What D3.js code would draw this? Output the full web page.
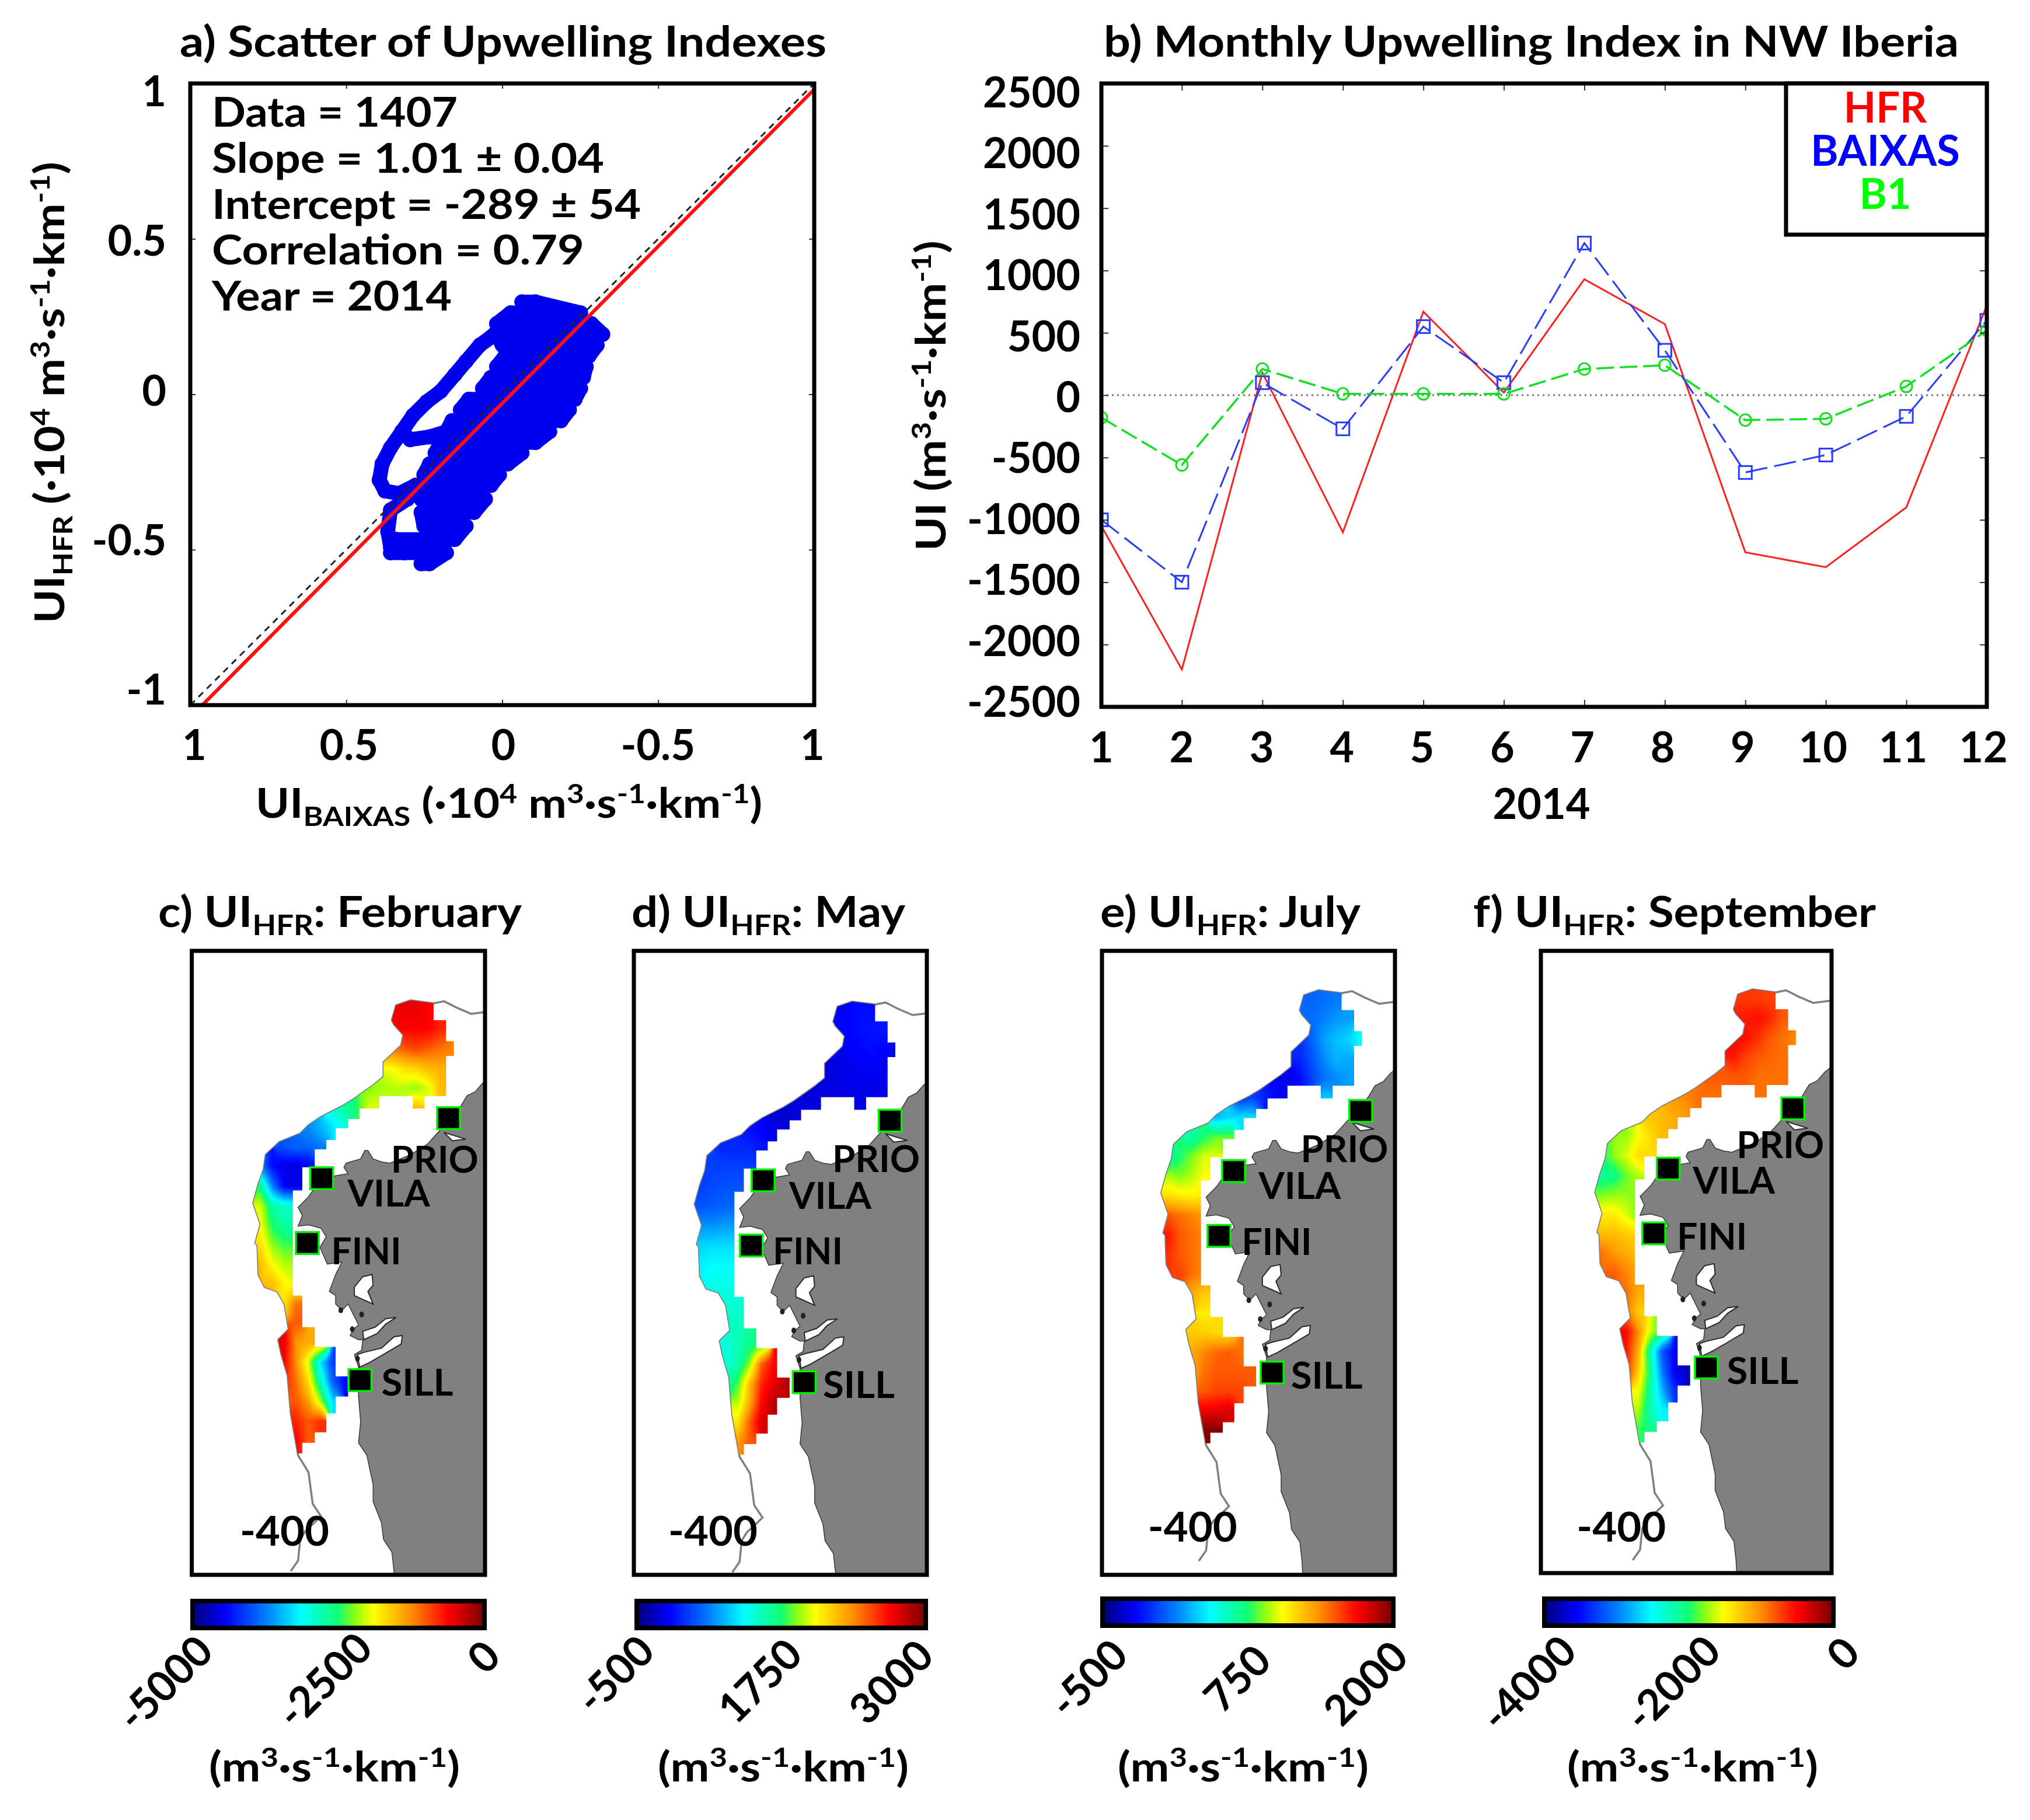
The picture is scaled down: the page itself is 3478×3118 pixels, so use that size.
<!DOCTYPE html>
<html><head><meta charset="utf-8">
<script src="https://cdnjs.cloudflare.com/ajax/libs/d3/7.8.5/d3.min.js"></script>
<style>html,body{margin:0;padding:0;background:#fff}svg{display:block}text{font-family:Lato,"Open Sans",sans-serif;font-weight:700;fill:#000}</style>
</head><body><svg id="c" width="3478" height="3118"></svg>
<script>
// ---------- panel a ----------
const statLines=["Data = 1407","Slope = 1.01 ± 0.04","Intercept = -289 ± 54","Correlation = 0.79","Year = 2014"];
const scatterAxisTicks=[1,0.5,0,-0.5,-1];
const scatterTickLabelsX=["1","0.5","0","-0.5","1"];
const scatterTickLabelsY=["1","0.5","0","-0.5","-1"];
const fitSlope=-1.01, fitIntercept=-0.0289;
// body of the point cloud, read row by row: [UI_BAIXAS, UI_HFR]
const scatterBody=[[.26,-.545],[.233,-.545],[.179,-.51],[.358,-.51],[.34,-.467],[.152,-.467],[.116,-.424],[.251,-.424],[.26,-.38],[.09,-.38],[.054,-.337],[.26,-.337],[.278,-.293],[.036,-.293],[.009,-.259],[.251,-.259],[.233,-.224],[-.018,-.224],[-.063,-.189],[.215,-.189],[.197,-.155],[-.107,-.155],[-.152,-.12],[.179,-.12],[.161,-.085],[-.188,-.085],[-.215,-.05],[.134,-.05],[.107,-.016],[-.233,-.016],[-.251,.019],[.063,.019],[.036,.054],[-.26,.054],[-.269,.089],[.018,.089],[-.009,.123],[-.278,.123],[-.304,.158],[0,.158],[.018,.193],[-.322,.193],[-.286,.227],[.018,.227],[-.027,.262],[-.251,.262],[-.107,.297],[-.063,.297]];
const scatterLoop=[[.394,-.276],[.385,-.224],[.358,-.172],[.322,-.12],[.286,-.068],[.242,-.024],[.197,.01],[.152,.063],[.116,.106],[.072,.158],[.036,.184],[-.009,.227]];
const scatterLoopLower=[[.322,-.12],[.295,-.146],[.233,-.137],[.179,-.12],[.125,-.068],[.072,-.016],[.036,.054]];
const scatterLobe=[[.394,-.276],[.376,-.311],[.331,-.319],[.278,-.293]];
const scatterLobe2=[[.304,-.337],[.358,-.372],[.367,-.441],[.358,-.493],[.313,-.51]];
// ---------- panel b ----------
const months=[1,2,3,4,5,6,7,8,9,10,11,12];
const uiHFR=[-1050,-2200,180,-1100,670,20,930,570,-1260,-1380,-900,720];
const uiBAIXAS=[-1000,-1500,100,-270,550,100,1220,360,-620,-480,-170,600];
const uiB1=[-180,-560,210,10,10,10,210,240,-200,-190,70,520];
const monthlyTicks=[2500,2000,1500,1000,500,0,-500,-1000,-1500,-2000,-2500];
const legendNames=["HFR","BAIXAS","B1"];
// ---------- maps (map units) ----------
const isobath400=[[555,1515],[590,1490],[600,1440],[625,1420],[700,1385],[660,1355],[640,1280],[590,1240],[585,1225],[555,1140],[540,1050],[510,1000],[495,965],[545,940],[525,880],[490,850],[430,840],[400,810],[395,740],[385,735],[410,690],[375,640],[400,595],[425,560],[435,525],[500,495],[600,475],[640,455],[700,435],[800,410],[850,395],[950,360],[1000,340],[1000,305],[1085,265],[1095,240],[1050,215],[1040,205],[1060,170],[1130,158],[1240,165],[1290,160],[1350,175],[1420,190],[1500,185]];
const landOutline=[[1500,345],[1475,355],[1440,375],[1400,385],[1370,410],[1340,430],[1265,470],[1210,500],[1130,525],[1030,545],[990,542],[950,535],[925,515],[910,515],[890,535],[820,545],[810,555],[830,570],[770,575],[690,590],[640,625],[590,650],[610,670],[590,695],[640,692],[700,700],[725,720],[695,745],[730,785],[800,780],[770,810],[740,850],[770,860],[770,880],[800,895],[830,880],[850,900],[880,930],[855,940],[840,955],[880,965],[900,965],[895,990],[860,1000],[880,1030],[880,1100],[890,1160],[880,1210],[920,1240],[950,1310],[950,1350],[990,1400],[1000,1440],[1040,1470],[1050,1515],[1060,1600],[1700,1600],[1700,345]];
const inlets=[[[860,840],[900,815],[945,810],[950,835],[925,850],[950,880],[905,870],[860,860]],[[900,945],[960,935],[1010,915],[1060,912],[1010,928],[970,950],[905,965]],[[905,995],[990,985],[1050,958],[1090,955],[1085,975],[1000,1000],[930,1020],[885,1030],[875,1000]],[[1290,472],[1395,488],[1330,492]]];
const islets=[[795,895],[850,940],[875,1010],[895,905]];
const coverage=[[1060,150],[1240,150],[1240,205],[1300,205],[1300,255],[1337,255],[1337,290],[1300,290],[1300,385],[1197,385],[1197,415],[1140,415],[1140,385],[980,385],[980,415],[885,415],[885,440],[830,440],[830,462],[770,462],[770,490],[725,490],[725,512],[670,512],[670,555],[610,555],[610,610],[565,610],[565,860],[610,860],[610,935],[670,935],[670,982],[770,982],[770,1052],[830,1052],[830,1100],[770,1100],[770,1140],[725,1140],[725,1185],[670,1185],[670,1210],[610,1210],[610,1235],[300,1235],[300,150]];
const stationNames=["PRIO","VILA","FINI","SILL"];
// fields: one row per line of the sampling grid, [first column, values...]; values are % along the colour bar
const fieldFebruary=[[12,90,90,88],[12,88,88,88,85],[11,78,80,82,80,78,76],[11,62,66,67,70,71],[9,55,57,58,58,56,60,70],[6,42,46,50,60,60,null,null,70],[4,26,30,34,40],[2,20,22,22,24],[0,25,12,9,8,10],[0,48,25,10,9],[0,60,45,42,40],[0,62,50,46,44],[0,66,56,52,52],[0,70,62,58,57],[1,70,63,60],[2,65,78],[3,80],[2,90,74,72,72],[2,88,75,60,35,18],[2,85,78,66,44,22,12],[3,80,74,58,34],[3,85,80,84],[3,88,80]];
const fieldMay=[[12,11,12,12],[12,11,12,13,13],[11,9,10,11,12,11,11],[11,8,9,10,10,10],[9,7,8,8,9,9,9,9],[6,6,7,8,8,8,null,null,8],[4,12,11,9,8],[2,15,15,15,13],[0,17,18,18,18,18],[0,18,19,20,20],[0,20,21,22,23],[0,27,27,28,28],[0,33,34,34,34],[0,36,37,37,37],[1,39,39,39],[2,41,41],[3,43],[2,40,44,47,50],[2,40,44,56,80,88],[2,44,52,70,85,90,95],[3,58,72,88,95],[3,65,80,92],[3,74,80]];
const fieldJuly=[[12,22,23,24],[12,23,25,27,28],[11,16,22,28,31,33,37],[11,15,20,26,30,29],[9,10,9,12,18,23,26,28],[6,16,18,14,11,10,null,null,32],[4,30,33,34,34],[2,45,50,54,54],[0,45,50,55,60,60],[0,57,55,58,62],[0,66,64,63,64],[0,80,78,76,74],[0,86,80,78,76],[0,84,80,78,76],[1,82,78,76],[2,72,68],[3,64],[2,68,68,66,66],[2,72,76,79,80,78],[2,73,78,80,80,80,80],[3,80,82,82,82],[3,90,90,92],[3,100,100]];
const fieldSeptember=[[12,83,83,82],[12,86,87,85,80],[11,88,87,84,80,78,76],[11,86,82,80,79,78],[9,80,80,80,80,78,78,78],[6,74,76,78,78,78,null,null,78],[4,69,70,72,74],[2,56,62,66,70],[0,50,56,60,66,66],[0,46,48,54,58],[0,55,56,56,55],[0,64,64,60,54],[0,70,70,68,67],[0,78,74,72,70],[1,80,76,73],[2,78,72],[2,78,68],[2,88,75,60,50],[2,86,72,44,20,11],[2,85,68,48,24,10,5],[3,62,46,30,16],[3,58,44,36],[3,52,48]];
const colorbarLabels=[["-5000","-2500","0"],["-500","1750","3000"],["-500","750","2000"],["-4000","-2000","0"]];
const mapTitles=[": February",": May",": July",": September"];
const mapLetters=["c) ","d) ","e) ","f) "];

const svg=d3.select("#c");
const jet=d3.scaleLinear().domain([0,11,25,37,50,56,62,75,88,100])
 .range(["#00007f","#0000ff","#0080ff","#00ffff","#10ff70","#90ff10","#ffff00","#ff9000","#ff0000","#7f0000"]).clamp(true);

function rich(g,x,y,parts,o){ // parts: [text, level] level 1 sup, -1 sub
 const size=o.size;
 const t=g.append("text").attr("x",x).attr("y",y).attr("font-size",size).attr("text-anchor",o.anchor||"start");
 if(o.transform)t.attr("transform",o.transform);
 if(o.fill)t.style("fill",o.fill);
 let cur=0;
 parts.forEach(([s,l])=>{
  const ts=t.append("tspan").text(s);
  const off=l===1?-0.36*size:l===-1?0.2*size:0;
  ts.attr("dy",off-cur); cur=off;
  if(l)ts.attr("font-size",size*(l===1?0.66:0.66));
 });
 if(o.width){t.attr("textLength",o.width).attr("lengthAdjust","spacingAndGlyphs");}
 return t;
}
function label(g,s,x,y,o){
 const t=g.append("text").attr("x",x).attr("y",y).attr("font-size",o.size).attr("text-anchor",o.anchor||"start").attr("dominant-baseline",o.base||"auto").text(s);
 if(o.fill)t.style("fill",o.fill);
 if(o.width)t.attr("textLength",o.width).attr("lengthAdjust","spacingAndGlyphs");
 if(o.transform)t.attr("transform",o.transform);
 return t;
}
const units=[["(·10",0],["4",1],[" m",0],["3",1],["·s",0],["-1",1],["·km",0],["-1",1],[")",0]];
const unitsB=[["(m",0],["3",1],["·s",0],["-1",1],["·km",0],["-1",1],[")",0]];

// ========== PANEL A ==========
(function(){
 const L=326,R=1395,T=143,B=1208;
 const x=d3.scaleLinear().domain([1,-1]).range([L,R]);
 const y=d3.scaleLinear().domain([-1,1]).range([B,T]);
 const g=svg.append("g");
 rich(g,308,97,[["a) Scatter of Upwelling Indexes",0]],{size:72,width:1108});
 g.append("clipPath").attr("id","clipA").append("rect").attr("x",L).attr("y",T).attr("width",R-L).attr("height",B-T);
 const pl=g.append("g").attr("clip-path","url(#clipA)");
 const line=d3.line().x(d=>x(d[0])).y(d=>y(d[1]));
 [scatterBody,scatterLoop,scatterLoopLower,scatterLobe,scatterLobe2].forEach(s=>{
  pl.append("path").attr("d",line(s)).attr("fill","none").attr("stroke","#0000ee").attr("stroke-width",25).attr("stroke-linecap","round").attr("stroke-linejoin","round");
  pl.selectAll(null).data(s).join("circle").attr("cx",d=>x(d[0])).attr("cy",d=>y(d[1])).attr("r",13).attr("fill","#0000ee");
 });
 pl.append("path").attr("d",line([[1,-1],[-1,1]])).attr("stroke","#222").attr("stroke-width",3).attr("stroke-dasharray","11 9").attr("fill","none");
 pl.append("path").attr("d",line([[1,fitSlope+fitIntercept],[-1,-fitSlope+fitIntercept]])).attr("stroke","#ff1010").attr("stroke-width",6).attr("fill","none");
 g.append("g").attr("transform",`translate(0,${B})`).call(d3.axisBottom(x).tickValues(scatterAxisTicks).tickSize(-9).tickFormat("")).call(a=>{a.select(".domain").remove();a.selectAll("line").attr("stroke","#333").attr("stroke-width",2)});
 g.append("g").attr("transform",`translate(0,${T})`).call(d3.axisTop(x).tickValues(scatterAxisTicks).tickSize(-9).tickFormat("")).call(a=>{a.select(".domain").remove();a.selectAll("line").attr("stroke","#333").attr("stroke-width",2)});
 g.append("g").attr("transform",`translate(${L},0)`).call(d3.axisLeft(y).tickValues(scatterAxisTicks).tickSize(-9).tickFormat("")).call(a=>{a.select(".domain").remove();a.selectAll("line").attr("stroke","#333").attr("stroke-width",2)});
 g.append("g").attr("transform",`translate(${R},0)`).call(d3.axisRight(y).tickValues(scatterAxisTicks).tickSize(-9).tickFormat("")).call(a=>{a.select(".domain").remove();a.selectAll("line").attr("stroke","#333").attr("stroke-width",2)});
 g.append("rect").attr("x",L).attr("y",T).attr("width",R-L).attr("height",B-T).attr("fill","none").attr("stroke","#000").attr("stroke-width",7);
 const lx=d3.scaleLinear().domain([1,-1]).range([333,1392]);
 const ly=d3.scaleLinear().domain([1,-1]).range([157,1182]);
 scatterAxisTicks.forEach((v,i)=>{
  label(g,scatterTickLabelsX[i],lx(v),1302,{size:72,anchor:"middle"});
  label(g,scatterTickLabelsY[i],285,ly(v)+25,{size:72,anchor:"end"});
 });
 const w=[421,672,735,638,411],by=[217,296,375,453,532];
 statLines.forEach((s,i)=>label(g,s,363,by[i],{size:70,width:w[i]}));
 rich(g,438,1401,[["UI",0],["BAIXAS",-1],[" ",0]].concat(units),{size:70,width:868});
 rich(g,110,1068,[["UI",0],["HFR",-1],[" ",0]].concat(units),{size:70,width:791,transform:"rotate(-90 110 1068)"});
})();

// ========== PANEL B ==========
(function(){
 const L=1887,R=3404,T=143,B=1211;
 const x=d3.scaleLinear().domain([1,12]).range([L,R]);
 const y=d3.scaleLinear().domain([-2500,2500]).range([B,T]);
 const g=svg.append("g");
 rich(g,1891,97,[["b) Monthly Upwelling Index in NW Iberia",0]],{size:72,width:1465});
 g.append("clipPath").attr("id","clipB").append("rect").attr("x",L).attr("y",T).attr("width",R-L).attr("height",B-T);
 const pl=g.append("g").attr("clip-path","url(#clipB)");
 const line=s=>d3.line().x((d,i)=>x(months[i])).y(d=>y(d))(s);
 pl.append("line").attr("x1",L).attr("x2",R).attr("y1",y(0)).attr("y2",y(0)).attr("stroke","#777").attr("stroke-width",3).attr("stroke-dasharray","3 6");
 pl.append("path").attr("d",line(uiHFR)).attr("fill","none").attr("stroke","#ff2020").attr("stroke-width",3);
 pl.append("path").attr("d",line(uiBAIXAS)).attr("fill","none").attr("stroke","#2a3cff").attr("stroke-width",3).attr("stroke-dasharray","38 12");
 pl.append("path").attr("d",line(uiB1)).attr("fill","none").attr("stroke","#10e020").attr("stroke-width",3.5).attr("stroke-dasharray","30 10");
 pl.selectAll(null).data(uiBAIXAS).join("rect").attr("x",(d,i)=>x(months[i])-11).attr("y",d=>y(d)-11).attr("width",22).attr("height",22).attr("fill","none").attr("stroke","#2a3cff").attr("stroke-width",3);
 pl.selectAll(null).data(uiB1).join("circle").attr("cx",(d,i)=>x(months[i])).attr("cy",d=>y(d)).attr("r",10).attr("fill","none").attr("stroke","#10e020").attr("stroke-width",3);
 const st=a=>{a.select(".domain").remove();a.selectAll("line").attr("stroke","#333").attr("stroke-width",2)};
 g.append("g").attr("transform",`translate(0,${B})`).call(d3.axisBottom(x).tickValues(months).tickSize(-12).tickFormat("")).call(st);
 g.append("g").attr("transform",`translate(0,${T})`).call(d3.axisTop(x).tickValues(months).tickSize(-12).tickFormat("")).call(st);
 g.append("g").attr("transform",`translate(${L},0)`).call(d3.axisLeft(y).tickValues(monthlyTicks).tickSize(-12).tickFormat("")).call(st);
 g.append("g").attr("transform",`translate(${R},0)`).call(d3.axisRight(y).tickValues(monthlyTicks).tickSize(-12).tickFormat("")).call(st);
 g.append("rect").attr("x",L).attr("y",T).attr("width",R-L).attr("height",B-T).attr("fill","none").attr("stroke","#000").attr("stroke-width",7);
 g.append("rect").attr("x",3060).attr("y",T).attr("width",R-3060).attr("height",402-T).attr("fill","#fff").attr("stroke","#000").attr("stroke-width",7);
 const lgY=[185,259,333],lgC=["#ff0000","#0000ff","#00ff00"];
 legendNames.forEach((s,i)=>label(g,s,3230,lgY[i]+25,{size:72,anchor:"middle",fill:lgC[i]}));
 const lx=d3.scaleLinear().domain([1,12]).range([1887,3398]);
 const ly=d3.scaleLinear().domain([2500,-2500]).range([159,1203]);
 months.forEach(m=>label(g,m,lx(m),1306,{size:72,anchor:"middle"}));
 monthlyTicks.forEach(v=>label(g,v,1851,ly(v)+25,{size:72,anchor:"end"}));
 label(g,"2014",2641,1403,{size:72,anchor:"middle"});
 rich(g,1620,944,[["UI ",0]].concat(unitsB),{size:70,width:532,transform:"rotate(-90 1620 944)"});
})();

// ========== MAP PANELS ==========
const panels=[
 {x0:300,dx:0,dy:0,L:328.6,R:831,T:1629,B:2698,field:fieldFebruary,
  st:[[1312,438],[703,581],[634,735],[887,1061]],lab:[[1245,535],[1025,615],[917,752],[1162,1065]],minus:[525,1420],
  bar:[326,834,2739,2793],tick:[[281,2882],[554,2877],[827,2837]],unit:573,title:[271,623]},
 {x0:1060,dx:-10,dy:3,L:1086,R:1588,T:1629,B:2698,field:fieldMay,
  st:[[1302,444],[693,586],[636,741],[890,1066]],lab:[[1235,533],[1015,620],[907,752],[1152,1070]],minus:[452,1420],
  bar:[1087,1590,2739,2793],tick:[[1052,2867],[1300,2878],[1525,2880]],unit:1342,title:[1082,469]},
 {x0:1860,dx:-12,dy:-24,L:1888,R:2390,T:1629,B:2698,field:fieldJuly,
  st:[[1320,421],[710,564],[640,718],[895,1043]],lab:[[1242,510],[1027,597],[917,730],[1157,1048]],minus:[513,1410],
  bar:[1885,2391,2735,2789],tick:[[1863,2874],[2118,2874],[2338,2882]],unit:2130,title:[1885,446]},
 {x0:2620,dx:-58,dy:-26,L:2640,R:3138,T:1629,B:2695,field:fieldSeptember,
  st:[[1265,415],[667,558],[598,712],[850,1031]],lab:[[1205,500],[982,585],[877,717],[1120,1037]],minus:[442,1410],
  bar:[2642,3145,2735,2789],tick:[[2617,2882],[2864,2882],[3156,2831]],unit:2900,title:[2524,690]}
];
const colW=57.5,rowH=46.6,col0=409,row0=180;
panels.forEach((p,k)=>{
 const g=svg.append("g");
 const zx=d3.scaleLinear().domain([0,1568]).range([p.x0,p.x0+560]);
 const zy=d3.scaleLinear().domain([0,1568]).range([1600,2729.7]);
 const mx=v=>zx(v+p.dx), my=v=>zy(v+p.dy);
 rich(g,p.title[0],1588,[[mapLetters[k]+"UI",0],["HFR",-1],[mapTitles[k],0]],{size:72,width:p.title[1]});
 const poly=a=>"M"+a.map(d=>mx(d[0])+","+my(d[1])).join("L")+"Z";
 const open=a=>"M"+a.map(d=>mx(d[0])+","+my(d[1])).join("L");
 g.append("clipPath").attr("id","fr"+k).append("rect").attr("x",p.L).attr("y",p.T).attr("width",p.R-p.L).attr("height",p.B-p.T);
 const isoPoly=isobath400.concat([[1700,185],[1700,1600],[555,1600]]);
 g.append("clipPath").attr("id","iso"+k).append("path").attr("d",poly(isoPoly));
 g.append("clipPath").attr("id","cov"+k).append("path").attr("d",poly(coverage));
 const m=g.append("g").attr("clip-path",`url(#fr${k})`);
 m.append("path").attr("d",poly(landOutline)).attr("fill","#808080").attr("stroke","#3a3a3a").attr("stroke-width",1.5);
 inlets.forEach(a=>m.append("path").attr("d",poly(a)).attr("fill","#fff").attr("stroke","#2a2a2a").attr("stroke-width",2));
 m.selectAll(null).data(islets).join("ellipse").attr("cx",d=>mx(d[0])).attr("cy",d=>my(d[1])).attr("rx",4).attr("ry",5).attr("fill","#222");
 m.append("path").attr("d",open(isobath400)).attr("fill","none").attr("stroke","#808080").attr("stroke-width",3.5);
 // field
 const G=p.field.map(r=>{const a=new Array(17).fill(null);r.slice(1).forEach((v,j)=>a[r[0]+j]=v);return a;});
 const known=[];G.forEach((r,i)=>r.forEach((v,j)=>{if(v!==null)known.push([i,j,v])}));
 const val=(bx,by)=>{
  const fj=(bx-col0)/colW,fi=(by-row0)/rowH,i0=Math.floor(fi),j0=Math.floor(fj);
  let s=0,w=0;
  [[i0,j0],[i0,j0+1],[i0+1,j0],[i0+1,j0+1]].forEach(([i,j])=>{
   if(G[i]&&G[i][j]!=null){const q=(1-Math.abs(fi-i))*(1-Math.abs(fj-j));s+=q*G[i][j];w+=q;}
  });
  if(w>0.02)return s/w;
  let best=null,bd=1e9;known.forEach(c=>{const d=(c[0]-fi)**2+(c[1]-fj)**2;if(d<bd){bd=d;best=c[2]}});
  return best;
 };
 const f=m.append("g").attr("clip-path",`url(#iso${k})`).append("g").attr("clip-path",`url(#cov${k})`);
 const cells=[];const stepX=4*2.8,stepY=4*1.388;
 for(let by=140;by<1245;by+=stepY)for(let bx=340;bx<1345;bx+=stepX){
  const inside=[[0,0],[stepX,0],[0,stepY],[stepX,stepY]].some(o=>d3.polygonContains(coverage,[bx+o[0],by+o[1]]));
  if(inside)cells.push([bx,by,val(bx+stepX/2,by+stepY/2)]);
 }
 f.selectAll(null).data(cells).join("rect").attr("x",d=>mx(d[0])).attr("y",d=>my(d[1])).attr("width",4.6).attr("height",4.6).attr("fill",d=>jet(d[2]));
 // stations
 const bw=110,bh=52;
 p.st.forEach((s,i)=>{
  g.append("rect").attr("x",zx(s[0]-bw/2)).attr("y",zy(s[1]-bh/2)).attr("width",bw/2.8).attr("height",bh/1.388).attr("fill","#000").attr("stroke","#00f000").attr("stroke-width",3.5);
  const wd=[150,141,120,123][i];
  label(g,stationNames[i],zx(p.lab[i][0]),zy(p.lab[i][1])+24,{size:64,anchor:"middle",width:wd});
 });
 label(g,"-400",zx(p.minus[0]),zy(p.minus[1])+25,{size:70,anchor:"middle",width:153});
 g.append("rect").attr("x",p.L).attr("y",p.T).attr("width",p.R-p.L).attr("height",p.B-p.T).attr("fill","none").attr("stroke","#000").attr("stroke-width",7);
 // colour bar
 const b=p.bar,cx=d3.scaleLinear().domain([0,100]).range([b[0]+7,b[1]-7]);
 g.selectAll(null).data(d3.range(0,100,1)).join("rect").attr("x",d=>cx(d)).attr("y",b[2]).attr("width",(b[1]-b[0]-14)/100+.7).attr("height",b[3]-b[2]).attr("fill",d=>jet(d+.5));
 g.append("rect").attr("x",b[0]+4).attr("y",b[2]+4).attr("width",b[1]-b[0]-8).attr("height",b[3]-b[2]-8).attr("fill","none").attr("stroke","#000").attr("stroke-width",8);
 colorbarLabels[k].forEach((s,i)=>{
  const c=p.tick[i];
  label(g,s,c[0],c[1],{size:72,anchor:"middle",base:"central",transform:`rotate(-45 ${c[0]} ${c[1]})`});
 });
 rich(g,p.unit,3052,unitsB,{size:70,anchor:"middle",width:430});
});
</script></body></html>
